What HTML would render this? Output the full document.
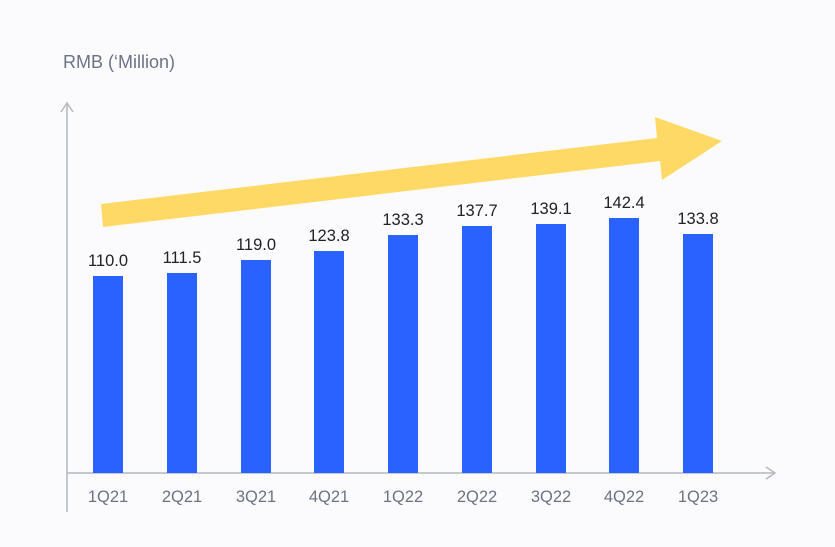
<!DOCTYPE html>
<html><head><style>
html,body{margin:0;padding:0;background:#fbfbfe;}
svg{display:block;font-family:"Liberation Sans",sans-serif;}
</style></head><body>
<svg width="835" height="547" viewBox="0 0 835 547">
<rect width="835" height="547" fill="#fbfbfe"/>
<text x="63" y="68" font-size="18" fill="#6b7385">RMB (‘Million)</text>
<line x1="67" y1="103" x2="67" y2="512" stroke="#b5b8c2" stroke-width="1.5"/>
<polyline points="61,112 67,103 73,112" fill="none" stroke="#b5b8c2" stroke-width="1.5"/>
<line x1="67" y1="473" x2="775" y2="473" stroke="#b5b8c2" stroke-width="1.5"/>
<polyline points="766,467 775,473 766,479" fill="none" stroke="#b5b8c2" stroke-width="1.5"/>
<polygon points="101,204 657,138 655,117 722,141 662,180 660,161 103,227" fill="#ffd966"/>
<g fill="#2962ff">
<rect x="93" y="276" width="30" height="197"/>
<rect x="167" y="273" width="30" height="200"/>
<rect x="241" y="260" width="30" height="213"/>
<rect x="314" y="251" width="30" height="222"/>
<rect x="388" y="235" width="30" height="238"/>
<rect x="462" y="226" width="30" height="247"/>
<rect x="536" y="224" width="30" height="249"/>
<rect x="609" y="218" width="30" height="255"/>
<rect x="683" y="234" width="30" height="239"/>
</g>
<g font-size="16.5" fill="#222" text-anchor="middle">
<text x="108" y="266">110.0</text>
<text x="182" y="263">111.5</text>
<text x="256" y="250">119.0</text>
<text x="329" y="241">123.8</text>
<text x="403" y="225">133.3</text>
<text x="477" y="216">137.7</text>
<text x="551" y="214">139.1</text>
<text x="624" y="208">142.4</text>
<text x="698" y="224">133.8</text>
</g>
<g font-size="16.5" fill="#6b7385" text-anchor="middle">
<text x="108" y="502">1Q21</text>
<text x="182" y="502">2Q21</text>
<text x="256" y="502">3Q21</text>
<text x="329" y="502">4Q21</text>
<text x="403" y="502">1Q22</text>
<text x="477" y="502">2Q22</text>
<text x="551" y="502">3Q22</text>
<text x="624" y="502">4Q22</text>
<text x="698" y="502">1Q23</text>
</g>
</svg>
</body></html>
